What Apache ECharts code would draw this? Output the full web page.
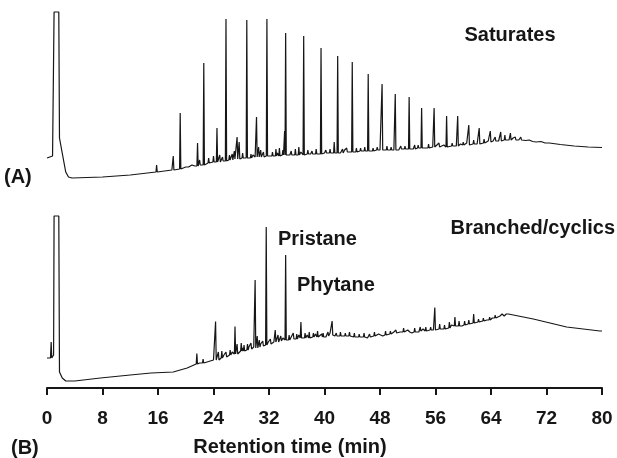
<!DOCTYPE html>
<html>
<head>
<meta charset="utf-8">
<script src="https://cdn.jsdelivr.net/npm/echarts@6/dist/echarts.min.js"></script>
<style>
  html, body { margin: 0; padding: 0; background: #fff; }
  #chart { width: 617px; height: 458px; }
</style>
</head>
<body>
<div id="chart"></div>
<script>
// Gas chromatograms of an oil extract: (A) saturate fraction, (B) branched/cyclic fraction.
// Detector response in arbitrary units; retention time in minutes.

const timeMin = 0;
const timeMax = 80;
const timeStep = 8;

// Trace (A): baseline and solvent front, [time, response]
const baselineA = [
  [0, 24], [0.8, 26], [0.95, 26], [1.02, 170], [1.7, 170], [1.8, 44], [2.3, 25],
  [2.7, 10], [3.1, 5], [3.6, 4], [8, 5], [12, 7], [16, 10], [18, 12], [20, 15],
  [22, 17], [24, 20], [26, 22], [28, 24], [30, 25], [32, 26], [34, 27], [36, 27],
  [38, 28], [40, 29], [42, 29], [44, 31], [46, 31], [48, 32], [50, 32], [52, 33],
  [54, 34], [56, 35], [58, 35.5], [60, 37], [62, 38], [64, 40], [66, 42], [67, 42.5],
  [68, 42], [70, 40.5], [72, 39], [74, 37.5], [76, 36], [78, 35], [80, 34.5]
];

// Trace (A): unresolved baseline ripple, [time, response]
const rippleA = [
  [20.4, 15], [20.9, 17], [21.3, 16], [22.3, 18], [22.9, 17], [23.6, 20], [24.2, 19],
  [24.7, 22], [25.1, 20], [25.5, 23], [26.0, 21], [26.5, 24], [27.2, 25], [27.9, 23],
  [28.5, 26], [29.0, 24], [29.7, 27], [30.0, 25], [31.0, 27], [31.5, 25], [32.0, 28],
  [32.8, 26], [33.2, 29], [33.8, 27], [34.7, 29], [35.0, 27], [35.5, 29], [36.1, 27],
  [36.6, 30], [37.3, 28], [37.9, 30], [38.5, 28], [39.1, 30], [39.8, 28], [40.5, 31],
  [41.1, 29], [41.7, 31], [42.3, 29], [42.9, 32], [43.5, 30], [44.3, 32], [44.9, 31],
  [45.5, 33], [46.0, 31], [46.6, 33], [47.3, 32], [47.9, 34], [48.6, 32], [49.3, 34],
  [49.9, 33], [50.5, 34], [50.7, 32], [51.3, 35], [51.9, 33], [52.5, 35], [52.8, 33],
  [53.3, 35], [53.8, 34], [54.3, 36], [54.6, 34], [55.3, 36], [55.6, 35], [56.2, 37],
  [56.8, 35], [57.2, 37], [57.9, 36], [58.7, 38], [59.0, 36], [59.6, 38], [60.3, 37],
  [60.5, 39], [61.1, 38], [61.8, 40], [62.0, 38], [62.6, 40], [63.3, 40], [63.6, 41],
  [64.3, 41], [64.9, 43], [65.1, 41], [65.7, 43], [66.3, 43], [66.6, 42], [67.2, 44],
  [67.8, 42], [68.6, 43], [69.0, 41.5], [69.5, 42], [70.5, 40], [71.2, 40.5], [71.8, 39]
];

// Trace (A): resolved n-alkane peaks, [time, foot, apex]
const peaksA = [
  [15.8, 10, 17], [18.2, 12, 26], [19.2, 13, 69], [21.7, 16, 39], [22.6, 17, 119],
  [24.5, 20, 54], [25.8, 21, 163], [27.4, 23, 45], [27.7, 23, 40], [28.8, 24, 162],
  [30.2, 25, 65], [31.7, 26, 163], [34.25, 27, 51], [34.4, 27, 149], [37.0, 27, 146],
  [39.5, 28, 134], [41.9, 29, 126], [44.0, 30, 120], [46.3, 31, 108], [48.3, 32, 98],
  [50.2, 32, 88], [52.2, 33, 85], [54.0, 34, 74], [55.8, 35, 74], [57.6, 35, 66],
  [59.2, 36, 66], [60.8, 37, 57], [62.3, 38, 54], [63.9, 40, 51], [65.4, 41, 50],
  [66.8, 42, 49], [68.3, 42, 45], [70.1, 40.5, 41.5]
];

// Trace (A): minor components, [time, foot, apex]
const minorA = [
  [22.0, 17, 22], [23.3, 19, 24], [24.0, 20, 26], [24.9, 20, 27], [25.3, 21, 25],
  [26.3, 22, 27], [26.7, 22, 28], [27.0, 23, 31], [28.2, 24, 29], [29.4, 24, 28],
  [30.5, 25, 35], [30.8, 25, 32], [31.2, 25, 30], [32.5, 26, 30], [33.0, 26, 33],
  [33.5, 26, 34], [34.0, 27, 32], [35.2, 27, 31], [35.8, 27, 33], [36.3, 27, 35],
  [37.6, 28, 32], [38.2, 28, 31], [38.8, 28, 33], [40.2, 29, 32], [40.8, 29, 33],
  [41.4, 29, 40], [42.6, 29, 33], [43.2, 30, 34], [44.6, 30, 34], [45.2, 31, 34],
  [45.8, 31, 35], [47.0, 31, 34], [47.6, 32, 35], [49.0, 32, 36], [49.6, 32, 35],
  [51.0, 33, 36], [51.6, 33, 36], [53.0, 33, 37], [53.5, 34, 37], [55.0, 34, 38],
  [56.5, 35, 39], [58.4, 36, 39], [60.0, 37, 40], [61.5, 38, 42], [63.0, 39, 43],
  [64.6, 41, 45], [66.0, 42, 47], [67.5, 42, 45], [72.5, 39, 40.5]
];

// Trace (B): baseline and solvent front, [time, response]
const baselineB = [
  [0, 30], [0.5, 30], [0.75, 31], [0.95, 33], [1.02, 172], [1.7, 172], [1.8, 16],
  [2.2, 10], [2.7, 7], [4, 7], [7.7, 10], [12, 13], [15, 15], [18.2, 16], [20.2, 20],
  [22, 25], [24, 28], [26.9, 35], [29.8, 41], [32.7, 46], [36.5, 50], [39.4, 51],
  [41.3, 53], [46, 51], [50.9, 56], [55.7, 58], [59.6, 63], [63.4, 68], [66.5, 74],
  [70.1, 69], [74.9, 61], [79.7, 57], [80, 57]
];

// Trace (B): unresolved baseline ripple, [time, response]
const rippleB = [
  [24.8, 29], [25.5, 33], [26.0, 31], [26.7, 36], [27.7, 35], [28.2, 40], [28.6, 36],
  [29.1, 41], [29.6, 39], [30.8, 44], [31.3, 42], [31.9, 46], [32.5, 44], [33.0, 48],
  [33.5, 46], [34.0, 50], [34.7, 47], [35.2, 51], [35.8, 49], [36.3, 53], [36.9, 50],
  [37.5, 53], [38.1, 50], [38.7, 54], [39.3, 51], [39.6, 54], [40.2, 51], [40.8, 55],
  [41.5, 52], [42.0, 54], [42.6, 51], [43.3, 54], [43.9, 51], [44.6, 53], [45.3, 50],
  [45.9, 53], [46.2, 50], [46.8, 53], [47.5, 51], [47.8, 54], [48.4, 52], [49.1, 55],
  [49.8, 53], [50.0, 56], [50.6, 54], [51.0, 57], [51.7, 55], [52.0, 58], [52.6, 55],
  [53.3, 58], [53.6, 56], [54.2, 59], [54.9, 57], [55.6, 60], [56.2, 58], [56.9, 61],
  [57.6, 59], [58.3, 63], [58.5, 61], [59.1, 64], [59.8, 62], [60.5, 65], [61.1, 64],
  [61.8, 67], [62.5, 66], [63.1, 69], [63.5, 67], [64.2, 70], [64.9, 70], [65.3, 72],
  [65.9, 72], [66.2, 74]
];

// Trace (B): labelled and prominent peaks, [time, foot, apex]
const peaksB = [
  [0.6, 30, 46], [21.6, 24, 34.5], [22.5, 25, 29], [24.3, 28, 66.5], [24.7, 28, 36],
  [27.1, 34, 61.5], [27.4, 34, 44], [30.0, 40, 108], [30.3, 40, 52], [31.6, 43, 161],
  [32.9, 46, 58], [34.4, 48, 133], [36.6, 50, 66], [41.1, 53, 67], [55.9, 58, 80.5],
  [58.8, 62, 71], [61.5, 65, 74]
];

// Trace (B): minor components, [time, foot, apex]
const minorB = [
  [25.2, 30, 37], [25.8, 31, 36], [26.4, 33, 38], [28.0, 37, 45], [28.4, 37, 43],
  [28.9, 38, 44], [29.4, 39, 45], [30.6, 41, 48], [31.1, 42, 47], [32.2, 44, 49],
  [33.3, 46, 53], [33.7, 47, 52], [34.9, 48, 53], [35.5, 49, 55], [36.0, 49, 54],
  [37.2, 50, 55], [37.8, 50, 56], [38.4, 51, 55], [39.0, 51, 57], [39.8, 51, 55],
  [40.5, 52, 56], [41.7, 52, 55], [42.3, 52, 56], [43.0, 52, 55], [43.6, 52, 56],
  [44.3, 51, 55], [45.0, 51, 54], [45.7, 51, 55], [46.5, 51, 54], [47.2, 52, 56],
  [48.0, 53, 56], [48.8, 53, 57], [49.5, 54, 57], [50.3, 55, 58], [51.4, 56, 60],
  [52.2, 56, 59], [53.0, 56, 60], [53.8, 57, 61], [54.6, 57, 61], [55.3, 58, 61],
  [56.6, 59, 64], [57.3, 59, 63], [58.0, 60, 66], [59.4, 62, 67], [60.2, 63, 67],
  [60.8, 64, 68], [62.2, 66, 69], [62.9, 67, 70], [63.8, 68, 71], [64.6, 70, 73],
  [65.6, 72, 74]
];

// Each peak becomes a narrow spike rising from its foot to its apex.
const halfWidth = 0.09;
function trace(points, ...peakLists) {
  const pts = points.map(p => [p[0], p[1]]);
  peakLists.forEach(list => list.forEach(([t, foot, apex]) => {
    pts.push([t - halfWidth, foot], [t, apex], [t + halfWidth, foot]);
  }));
  return pts.sort((a, b) => a[0] - b[0]);
}

const font = '"Liberation Sans", Arial, Helvetica, sans-serif';
const ink = '#161616';

const chart = echarts.init(document.getElementById('chart'), null, { renderer: 'canvas' });

function label(text, x, y, align, size) {
  return {
    type: 'text', x, y, silent: true,
    style: {
      text, fill: ink,
      fontFamily: font, fontSize: size || 20, fontWeight: 'bold',
      align, textAlign: align, verticalAlign: 'middle', textVerticalAlign: 'middle'
    }
  };
}

chart.setOption({
  animation: false,
  backgroundColor: '#ffffff',
  grid: [
    { left: 47, right: 15, top: 12, height: 170 },
    { left: 47, right: 15, top: 216, height: 172 }
  ],
  xAxis: [
    { gridIndex: 0, type: 'value', min: timeMin, max: timeMax, interval: timeStep, show: false },
    {
      gridIndex: 1, type: 'value', min: timeMin, max: timeMax, interval: timeStep,
      axisLine: { show: true, onZero: false, lineStyle: { color: ink, width: 2 } },
      axisTick: { show: true, inside: false, length: 7, lineStyle: { color: ink, width: 2 } },
      splitLine: { show: false },
      axisLabel: { color: ink, fontFamily: font, fontSize: 19, fontWeight: 'bold', margin: 21 }
    }
  ],
  yAxis: [
    { gridIndex: 0, type: 'value', min: 0, max: 170, show: false },
    { gridIndex: 1, type: 'value', min: 0, max: 172, show: false }
  ],
  series: [
    {
      type: 'line', xAxisIndex: 0, yAxisIndex: 0,
      data: trace(baselineA.concat(rippleA), peaksA, minorA),
      showSymbol: false, clip: false, lineStyle: { color: ink, width: 1.2 }
    },
    {
      type: 'line', xAxisIndex: 1, yAxisIndex: 1,
      data: trace(baselineB.concat(rippleB), peaksB, minorB),
      showSymbol: false, clip: false, lineStyle: { color: ink, width: 1.2 }
    }
  ],
  graphic: [
    label('Saturates', 510, 35, 'center'),
    label('(A)', 4, 177, 'left'),
    label('Branched/cyclics', 615, 228, 'right'),
    label('Pristane', 278, 239, 'left'),
    label('Phytane', 297, 285, 'left'),
    label('(B)', 11, 448, 'left'),
    label('Retention time (min)', 290, 447, 'center')
  ]
});
</script>
</body>
</html>
